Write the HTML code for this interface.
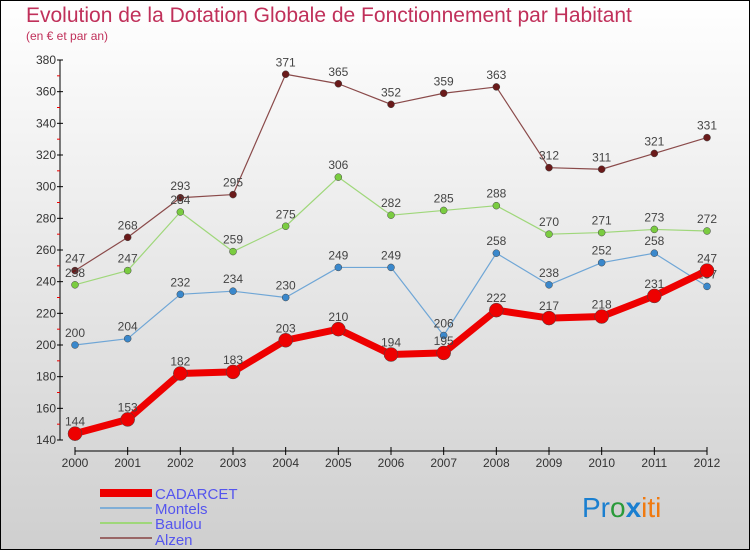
<!DOCTYPE html>
<html><head><meta charset="utf-8"><style>
html,body{margin:0;padding:0;width:750px;height:550px;overflow:hidden}
svg{display:block}
text{font-family:"Liberation Sans","DejaVu Sans",sans-serif}
</style></head><body>
<svg id="c" width="750" height="550" viewBox="0 0 750 550">
<defs><linearGradient id="bg" x1="0" y1="0" x2="0" y2="1"><stop offset="0" stop-color="#ffffff"/><stop offset="1" stop-color="#cfcfcf"/></linearGradient></defs>
<rect x="0.5" y="0.5" width="749" height="549" fill="url(#bg)" stroke="#000"/>
<text x="26" y="22" font-size="21" fill="#c0305a">Evolution de la Dotation Globale de Fonctionnement par Habitant</text>
<text x="26" y="40" font-size="12" fill="#c0305a">(en € et par an)</text>
<g id="axes"></g><g id="series"></g>
<g>
<rect x="100" y="489" width="52" height="8" fill="#e00"/>
<text x="155" y="499" font-size="15" fill="#5555ee">CADARCET</text>
<rect x="100" y="507" width="52" height="2" fill="#80aed6"/>
<text x="155" y="514" font-size="15" fill="#5555ee">Montels</text>
<rect x="100" y="522" width="52" height="2" fill="#9fd77a"/>
<text x="155" y="529" font-size="15" fill="#5555ee">Baulou</text>
<rect x="100" y="537" width="52" height="2" fill="#996666"/>
<text x="155" y="545" font-size="15" fill="#5555ee">Alzen</text>
</g>
<text x="582" y="517" font-size="28"><tspan fill="#1a7fd0">Pr</tspan><tspan fill="#2a9a3a">o</tspan><tspan fill="#1a7fd0" font-weight="bold">x</tspan><tspan fill="#f07a10">iti</tspan></text>
</svg>
<script>
const years=[2000,2001,2002,2003,2004,2005,2006,2007,2008,2009,2010,2011,2012];
const yTicks=[140,160,180,200,220,240,260,280,300,320,340,360,380];
const cadarcet=[144,153,182,183,203,210,194,195,222,217,218,231,247];
const montels=[200,204,232,234,230,249,249,206,258,238,252,258,237];
const baulou=[238,247,284,259,275,306,282,285,288,270,271,273,272];
const alzen=[247,268,293,295,371,365,352,359,363,312,311,321,331];
const NS="http://www.w3.org/2000/svg";
const X=i=>75+i*(707-75)/(years.length-1);
const Y=v=>440-(v-140)*(380/240);
function mk(t,a,p){const e=document.createElementNS(NS,t);for(const k in a)e.setAttribute(k,a[k]);p.appendChild(e);return e;}
const ax=document.getElementById('axes');
let e=mk('line',{x1:60,y1:Y(380),x2:60,y2:Y(140),stroke:'#000'},ax);


yTicks.forEach((v,i)=>{
 mk('line',{x1:57,x2:63,y1:Y(v),y2:Y(v),stroke:'#000'},ax);
 if(i<yTicks.length-1) mk('line',{x1:57,x2:60,y1:Y(v+10),y2:Y(v+10),stroke:'#e00'},ax);
 const t=mk('text',{x:56,y:Y(v)+4,'font-size':12,'text-anchor':'end',fill:'#333'},ax);t.textContent=v;
 
 
});
e=mk('line',{x1:75,y1:451,x2:707,y2:451,stroke:'#000'},ax);


years.forEach((y,i)=>{
 mk('line',{x1:X(i),x2:X(i),y1:447,y2:455,stroke:'#000'},ax);
 const t=mk('text',{x:X(i),y:467,'font-size':12,'text-anchor':'middle',fill:'#333'},ax);t.textContent=y;
 
 
});
const sg=document.getElementById('series');
function draw(data,name,color,dot,w,r){
 const g=mk('g',{},sg);
 
 
 const l=mk('polyline',{points:data.map((v,i)=>X(i)+','+Y(v)).join(' '),fill:'none',stroke:color,'stroke-width':w,'stroke-linejoin':'round'},g);
 
 
 data.forEach((v,i)=>{
  const c=mk('circle',{cx:X(i),cy:Y(v),r:r,fill:dot,stroke:'#444','stroke-width':0.5},g);
  
  
  const t=mk('text',{x:X(i),y:Y(v)-8,'font-size':12,'text-anchor':'middle',fill:'#444'},g);t.textContent=v;
  
  
 });
}
draw(alzen,'alzen','#8a4a4a','#6a1a1a',1.2,3.5);
draw(baulou,'baulou','#9fd77a','#7acc40',1.2,3.5);
draw(montels,'montels','#6fa6d6','#3a88cc',1.2,3.5);
draw(cadarcet,'cadarcet','#ee0000','#ee0000',7,7);
</script>
</body></html>
